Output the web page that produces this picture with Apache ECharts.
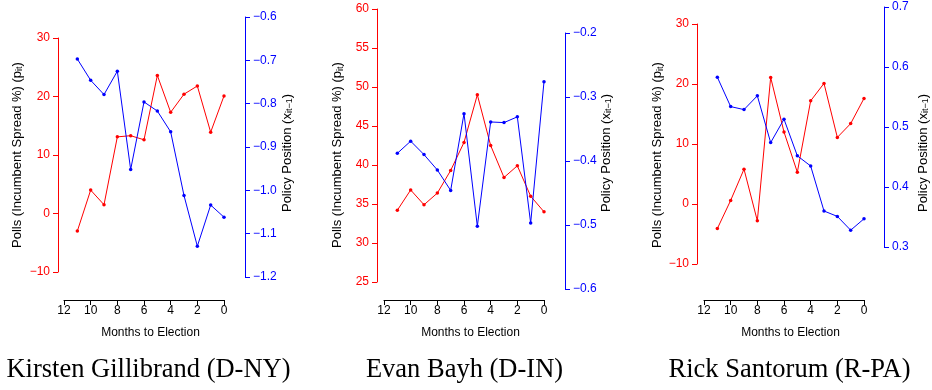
<!DOCTYPE html>
<html>
<head>
<meta charset="utf-8">
<script src="https://cdn.jsdelivr.net/npm/echarts@6/dist/echarts.min.js"></script>
<style>
  html, body { margin: 0; padding: 0; background: #fff; }
  #chart { width: 932px; height: 390px; }
</style>
</head>
<body>
<div id="chart"></div>
<script>
// months to election for each poll
const months = [11, 10, 9, 8, 7, 6, 5, 4, 3, 2, 1, 0];

const gillibrandPolls = [-3.0, 4.0, 1.5, 13.1, 13.3, 12.6, 23.6, 17.3, 20.4, 21.8, 13.9, 20.1];
const gillibrandPolicy = [-0.697, -0.746, -0.779, -0.725, -0.952, -0.796, -0.817, -0.865, -1.012, -1.129, -1.034, -1.062];

const bayhPolls = [34.2, 36.8, 34.9, 36.4, 39.3, 42.9, 49.0, 42.5, 38.4, 39.9, 36.0, 34.0];
const bayhPolicy = [-0.388, -0.369, -0.390, -0.414, -0.446, -0.326, -0.502, -0.339, -0.340, -0.331, -0.497, -0.276];

const santorumPolls = [-4.1, 0.6, 5.8, -2.8, 21.1, 12.0, 5.3, 17.2, 20.1, 11.1, 13.4, 17.6];
const santorumPolicy = [0.583, 0.534, 0.529, 0.552, 0.474, 0.513, 0.452, 0.435, 0.360, 0.351, 0.328, 0.347];

const titles = ['Kirsten Gillibrand (D-NY)', 'Evan Bayh (D-IN)', 'Rick Santorum (R-PA)'];
const pollRanges = [[-10, 30, 10], [25, 60, 5], [-10, 30, 10]];
const policyRanges = [[-1.2, -0.6, 0.1], [-0.6, -0.2, 0.1], [0.3, 0.7, 0.1]];

const pollsData = [gillibrandPolls, bayhPolls, santorumPolls];
const policyData = [gillibrandPolicy, bayhPolicy, santorumPolicy];

// layout of each panel (pixels)
const layout = [
  { left: 64, red: [38, 234], blue: [17, 260], redOff: 6, blueOff: 21, redLab: 17, blueLab: 287, title: 148.5 },
  { left: 384, red: [9, 273], blue: [33, 256], redOff: 7, blueOff: 21, redLab: 337.5, blueLab: 606, title: 464.5 },
  { left: 704, red: [24, 240], blue: [7, 240], redOff: 7, blueOff: 20, redLab: 657.5, blueLab: 923, title: 789.5 }
];
const X_AXIS_Y = 300;

const RED = '#ff0000';
const BLUE = '#0000ff';
const SANS = '"Liberation Sans", Arial, sans-serif';
const minus = s => s.replace('-', '\u2212');

const grid = [], xAxis = [], yAxis = [], series = [], graphic = [];

layout.forEach((L, i) => {
  const g = grid.length;
  grid.push({ left: L.left, width: 160, top: L.red[0], height: L.red[1] });
  grid.push({ left: L.left, width: 160, top: L.blue[0], height: L.blue[1] });
  // thin strip that only carries the visible months axis
  grid.push({ left: L.left, width: 160, top: X_AXIS_Y - 10, height: 10 });

  xAxis.push({ type: 'value', gridIndex: g, min: 0, max: 12, inverse: true, show: false });
  xAxis.push({ type: 'value', gridIndex: g + 1, min: 0, max: 12, inverse: true, show: false });
  xAxis.push({
    type: 'value', gridIndex: g + 2, min: 0, max: 12, interval: 2, inverse: true,
    name: 'Months to Election', nameLocation: 'middle', nameGap: 27,
    nameTextStyle: { color: '#000', fontSize: 12, fontFamily: SANS, padding: [0, 0, 0, 13] },
    axisLine: { lineStyle: { color: '#000', width: 1 } },
    axisTick: { length: 5, lineStyle: { color: '#000' } },
    axisLabel: { color: '#000', fontSize: 12, fontFamily: SANS, margin: 5 },
    splitLine: { show: false }
  });

  const pr = pollRanges[i], qr = policyRanges[i];
  yAxis.push({
    type: 'value', gridIndex: g, position: 'left', offset: L.redOff,
    min: pr[0], max: pr[1], interval: pr[2],
    axisLine: { show: true, onZero: false, lineStyle: { color: RED, width: 1 } },
    axisTick: { show: true, length: 5, lineStyle: { color: RED } },
    axisLabel: { color: RED, fontSize: 12, fontFamily: SANS, margin: 8, formatter: v => minus(String(v)) },
    splitLine: { show: false }
  });
  yAxis.push({
    type: 'value', gridIndex: g + 1, position: 'right', offset: L.blueOff,
    min: qr[0], max: qr[1], interval: qr[2],
    axisLine: { show: true, onZero: false, lineStyle: { color: BLUE, width: 1 } },
    axisTick: { show: true, length: 5, lineStyle: { color: BLUE } },
    axisLabel: { color: BLUE, fontSize: 12, fontFamily: SANS, margin: 8, formatter: v => minus(v.toFixed(1)) },
    splitLine: { show: false }
  });
  yAxis.push({ type: 'value', gridIndex: g + 2, min: 1, max: 2, show: false });

  series.push({
    type: 'line', xAxisIndex: g, yAxisIndex: g,
    data: months.map((m, k) => [m, pollsData[i][k]]),
    symbol: 'circle', symbolSize: 3.5,
    lineStyle: { color: RED, width: 1 }, itemStyle: { color: RED }
  });
  series.push({
    type: 'line', xAxisIndex: g + 1, yAxisIndex: g + 1,
    data: months.map((m, k) => [m, policyData[i][k]]),
    symbol: 'circle', symbolSize: 3.5,
    lineStyle: { color: BLUE, width: 1 }, itemStyle: { color: BLUE }
  });

  const rich = { sub: { fontSize: 9, fontFamily: SANS, lineHeight: 9, verticalAlign: 'bottom' } };
  graphic.push({
    type: 'text', x: L.redLab, y: 155, rotation: Math.PI / 2,
    style: { text: 'Polls (Incumbent Spread %) (p{sub|it})', rich, fill: '#000', fontSize: 13, fontFamily: SANS, lineHeight: 15, align: 'center', verticalAlign: 'middle' }
  });
  graphic.push({
    type: 'text', x: L.blueLab, y: 153, rotation: Math.PI / 2,
    style: { text: 'Policy Position (x{sub|it\u22121})', rich, fill: '#000', fontSize: 13, fontFamily: SANS, lineHeight: 15, align: 'center', verticalAlign: 'middle' }
  });
  graphic.push({
    type: 'text', x: L.title, y: 370,
    style: { text: titles[i], fill: '#000', fontSize: 26.5, fontFamily: '"Liberation Serif", "DejaVu Serif", serif', align: 'center', verticalAlign: 'middle' }
  });
});

const chart = echarts.init(document.getElementById('chart'));
chart.setOption({
  animation: false,
  backgroundColor: '#fff',
  grid, xAxis, yAxis, series, graphic
});
</script>
</body>
</html>
